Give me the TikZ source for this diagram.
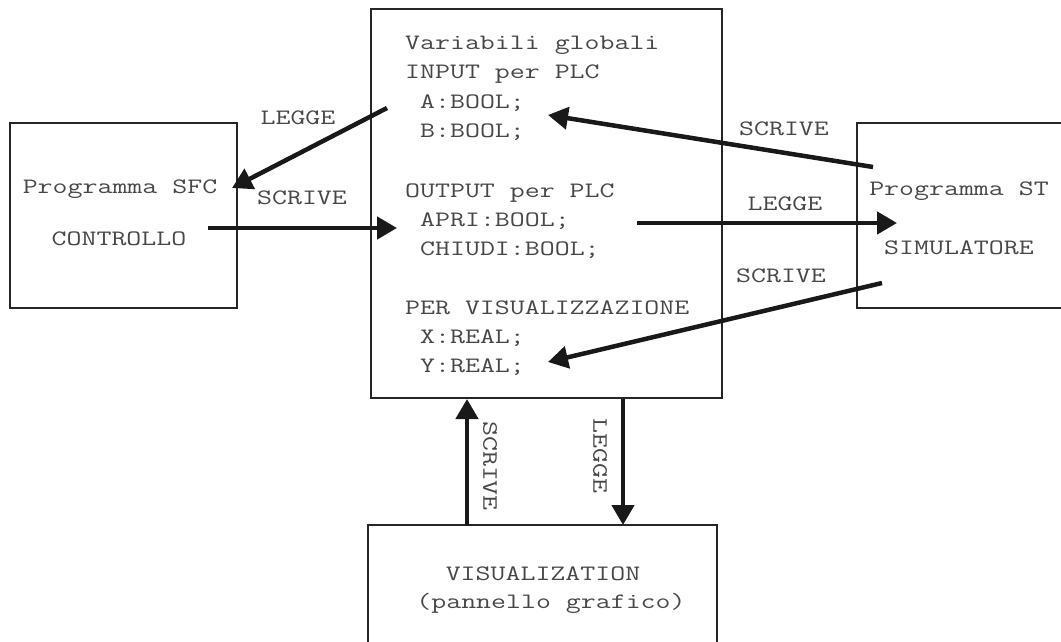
\documentclass[tikz,border=0pt]{standalone}
\usepackage{graphicx}
\usetikzlibrary{arrows.meta}
% wide typewriter lettering
\newcommand{\tw}[1]{\scalebox{1.32}[1]{#1}}
\begin{document}
\begin{tikzpicture}[x=1pt,y=-1pt,
  box/.style={draw=black!85, line width=1.3pt, inner sep=0pt, outer sep=0pt},
  txt/.style={font=\ttfamily\fontsize{22}{26}\selectfont, text=black!72, inner sep=0pt},
  flow/.style={line width=4.5pt, draw=black!90,
    -{Triangle[length=20pt,width=22pt]}}]
\useasboundingbox (0,0) rectangle (1061,642);
\clip (0,0) rectangle (1061,642);

% boxes
\node[box, minimum width=227pt, minimum height=185pt] (sfc) at (123.5,215.5) {};
\node[box, minimum width=351pt, minimum height=389pt] (glob) at (546.5,203.5) {};
\node[box, minimum width=218pt, minimum height=185pt] (st) at (966,215.5) {};
\node[box, minimum width=349pt, minimum height=140pt] (vis) at (542.5,595) {};

% box contents
\node[txt, anchor=base] (sfc1) at (120,193) {\tw{Programma SFC}};
\node[txt, anchor=base] (sfc2) at (119,245) {\tw{CONTROLLO}};
\node[txt, anchor=base] (st1) at (959,195) {\tw{Programma ST}};
\node[txt, anchor=base] (st2) at (959,254) {\tw{SIMULATORE}};
\node[txt, anchor=base] (vis1) at (543,580) {\tw{VISUALIZATION}};
\node[txt, anchor=base] (vis2) at (551,608) {\tw{(pannello grafico)}};

\node[txt, anchor=base west] (g1) at (405,50) {\tw{Variabili globali}};
\node[txt, anchor=base west] (g2) at (405,79) {\tw{INPUT per PLC}};
\node[txt, anchor=base west] (g3) at (420,108) {\tw{A:BOOL;}};
\node[txt, anchor=base west] (g4) at (420,137) {\tw{B:BOOL;}};
\node[txt, anchor=base west] (g5) at (405,197) {\tw{OUTPUT per PLC}};
\node[txt, anchor=base west] (g6) at (420,226) {\tw{APRI:BOOL;}};
\node[txt, anchor=base west] (g7) at (420,255) {\tw{CHIUDI:BOOL;}};
\node[txt, anchor=base west] (g8) at (405,314) {\tw{PER VISUALIZZAZIONE}};
\node[txt, anchor=base west] (g9) at (420,343) {\tw{X:REAL;}};
\node[txt, anchor=base west] (g10) at (420,372) {\tw{Y:REAL;}};

% arrow end points
\coordinate (a1s) at (387,108);  \coordinate (a1e) at (232,188);
\coordinate (a2s) at (208,228);  \coordinate (a2e) at (397,228);
\coordinate (a3s) at (873,167);  \coordinate (a3e) at (548,115);
\coordinate (a4s) at (637,223);  \coordinate (a4e) at (897,223);
\coordinate (a5s) at (882,283);  \coordinate (a5e) at (548,362);
\coordinate (a6s) at (467,525);  \coordinate (a6e) at (467,399);
\coordinate (a7s) at (623,399);  \coordinate (a7e) at (623,525);

\draw[flow] (a1s) -- (a1e);
\draw[flow] (a2s) -- (a2e);
\draw[flow] (a3s) -- (a3e);
\draw[flow] (a4s) -- (a4e);
\draw[flow] (a5s) -- (a5e);
\draw[flow] (a6s) -- (a6e);
\draw[flow] (a7s) -- (a7e);

% arrow labels
\node[txt] (l1) at (298,118) {\tw{LEGGE}};
\node[txt] (l2) at (302,198) {\tw{SCRIVE}};
\node[txt] (l3) at (784,129) {\tw{SCRIVE}};
\node[txt] (l4) at (785,204) {\tw{LEGGE}};
\node[txt] (l5) at (781,276) {\tw{SCRIVE}};
\node[txt, rotate=-90] (l6) at (490,466) {\tw{SCRIVE}};
\node[txt, rotate=-90] (l7) at (600,456) {\tw{LEGGE}};
\end{tikzpicture}
\end{document}
